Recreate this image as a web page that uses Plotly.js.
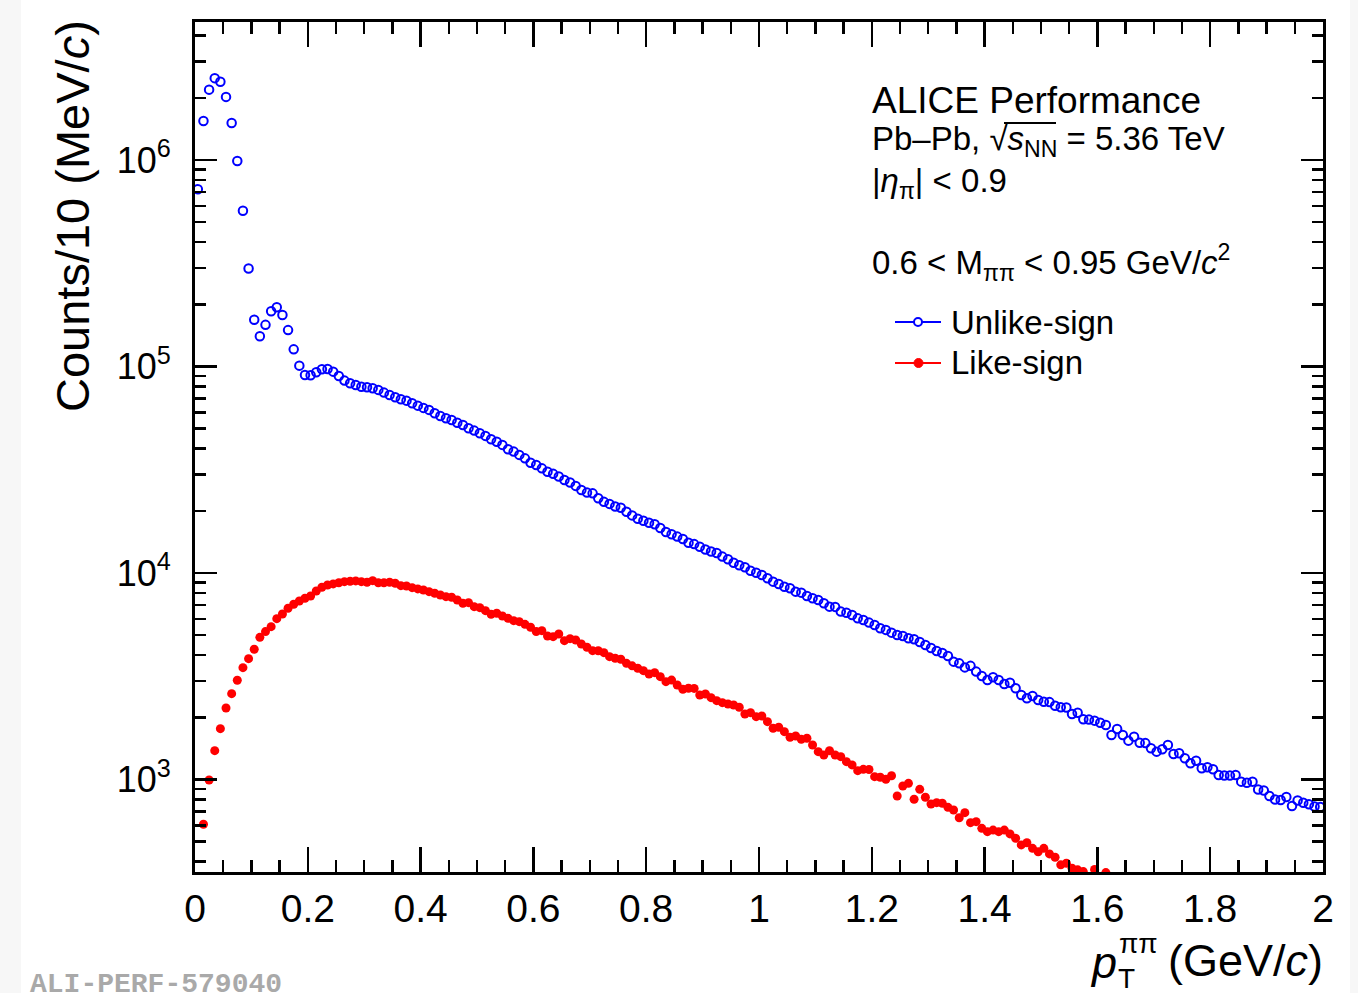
<!DOCTYPE html>
<html>
<head>
<meta charset="utf-8">
<script src="https://cdn.plot.ly/plotly-3.0.1.min.js"></script>
<style>html,body{margin:0;padding:0;background:#fff;}#chart{width:1358px;height:993px;}</style>
</head>
<body>
<div id="chart"></div>
<script>
// ---- data: pT bins (GeV/c), 10 MeV wide ----
const binWidth = 0.01;
const nBins = 200;
const ptCenters = Array.from({length: nBins}, (_, i) => +(0.005 + i * binWidth).toFixed(3));

// Unlike-sign counts per 10 MeV/c
const unlikeSign = [
  721000,1545000,2190000,2490000,2390000,2020000,1510000,989000,568000,298000,
  168500,140000,159000,185000,193500,177600,150000,121000,100900,91000,
  90600,93700,96900,97200,94400,89900,85400,82900,81400,79800,
  79300,78400,77000,74700,72800,70900,69400,68300,66300,64600,
  63000,61600,59300,57600,56100,55100,53400,52100,50200,48900,
  47500,46100,44400,43200,41700,39700,38700,37300,35900,34200,
  33300,32100,30900,30200,29300,28200,27400,26400,25200,24500,
  24300,23000,22100,21600,21000,20700,19800,19000,18300,17900,
  17500,17200,16500,15800,15400,15000,14600,14000,13800,13400,
  13000,12700,12500,12000,11650,11200,10900,10650,10250,10030,
  9780,9430,9080,8850,8580,8430,8120,8030,7740,7540,
  7400,7130,6870,6850,6500,6420,6260,6030,5920,5750,
  5600,5400,5300,5140,5010,4950,4830,4780,4630,4480,
  4330,4190,4100,3960,3720,3650,3490,3550,3330,3170,
  3030,3125,3030,2900,2940,2765,2566,2473,2537,2427,
  2381,2370,2277,2237,2230,2076,2106,1957,1950,1927,
  1884,1837,1643,1756,1643,1542,1612,1507,1500,1416,
  1364,1401,1469,1329,1339,1267,1198,1233,1133,1146,
  1120,1051,1046,1044,1051,976,965,976,894,885,
  832,800,796,823,744,791,772,758,740,736
];

// Like-sign counts per 10 MeV/c (null = below the visible range)
const likeSign = [
  null,607,994,1379,1762,2219,2603,3023,3478,3846,
  4270,4880,5200,5495,6007,6330,6746,7054,7318,7540,
  7740,8180,8530,8750,8850,8970,9080,9120,9150,9080,
  9015,9180,8970,8970,9015,8915,8680,8650,8490,8370,
  8270,8120,7975,7825,7680,7630,7400,7130,7180,6870,
  6790,6570,6310,6380,6190,6030,5875,5810,5640,5460,
  5200,5255,4950,4915,5065,4700,4807,4738,4531,4367,
  4205,4200,4112,3933,3863,3821,3650,3550,3456,3364,
  3243,3290,3146,2976,3030,2868,2734,2765,2760,2566,
  2595,2490,2408,2355,2321,2295,2237,2076,2106,2014,
  2030,1905,1770,1790,1704,1601,1624,1566,1583,1469,
  1364,1314,1379,1314,1290,1220,1176,1103,1120,1118,
  1032,1025,1002,1043,832,930,958,802,896,820,
  761,772,767,733,712,653,691,618,625,580,
  559,569,559,569,545,519,482,494,464,447,
  464,436,420,386,393,372,365,358,null,367,
  null,354,null,null,null,null,null,null,null,null,
  null,null,null,null,null,null,null,null,null,null,
  null,null,null,null,null,null,null,null,null,null,
  null,null,null,null,null,null,null,null,null,null
];

const yTickVals = [1e3, 1e4, 1e5, 1e6];
const yTickText = ['10<sup>3</sup>', '10<sup>4</sup>', '10<sup>5</sup>', '10<sup>6</sup>'];
const seriesNames = ['Unlike-sign', 'Like-sign'];

// ---- layout helpers ----
const W = 1358, H = 993;
const mL = 195, mR = 35, mT = 22, mB = 121;
const plotW = W - mL - mR, plotH = H - mT - mB;
const px = v => (v - mL) / plotW;
const py = v => (H - mB - v) / plotH;

const minorY = [];
for (let d = 2; d <= 6; d++) for (let k = 2; k <= 9; k++) minorY.push(k * Math.pow(10, d));

const FONT = 'Liberation Sans, Arial, Helvetica, sans-serif';
const BLUE = '#0000ff', RED = '#ff0000';

const traces = [
  {x: ptCenters, y: unlikeSign, type: 'scatter', mode: 'markers', name: seriesNames[0],
   marker: {symbol: 'circle-open', size: 8.5, color: BLUE, line: {color: BLUE, width: 2}}, showlegend: false},
  {x: ptCenters, y: likeSign, type: 'scatter', mode: 'markers', name: seriesNames[1],
   marker: {symbol: 'circle', size: 9, color: RED}, showlegend: false}
];

function ann(text, x, y, size, opts) {
  return Object.assign({text: text, x: px(x), y: py(y), xref: 'paper', yref: 'paper',
    showarrow: false, xanchor: 'left', yanchor: 'middle',
    font: {family: FONT, size: size, color: 'black'}}, opts || {});
}

const annotations = [
  ann('ALICE Performance', 870, 101, 37),
  ann('Pb\u2013Pb, \u221A<i>s</i><sub>NN</sub> = 5.36 TeV', 870, 141, 33),
  ann('|<i>\u03B7</i><sub>\u03C0</sub>| < 0.9', 870, 183, 33),
  ann('0.6 < M<sub>\u03C0\u03C0</sub> < 0.95 GeV/<i>c</i><sup>2</sup>', 870, 262, 33),
  ann(seriesNames[0], 949, 322, 33),
  ann(seriesNames[1], 949, 362, 33),
  // y axis title
  {text: 'Counts/10 (MeV/<i>c</i>)', x: px(72), y: py(18), xref: 'paper', yref: 'paper', showarrow: false,
   textangle: -90, xanchor: 'center', yanchor: 'top', font: {family: FONT, size: 47, color: 'black'}},
  // x axis title pieces
  ann('(GeV/<i>c</i>)', 1325, 960, 45, {xanchor: 'right'}),
  ann('<i>p</i>', 1119, 962, 45, {xanchor: 'right'}),
  ann('\u03C0\u03C0', 1117, 943, 28),
  ann('T', 1116, 978, 28),
  // watermark
  {text: '<b>ALI-PERF-579040</b>', x: px(28), y: py(985), xref: 'paper', yref: 'paper', showarrow: false,
   xanchor: 'left', yanchor: 'middle', font: {family: 'Liberation Mono, Courier New, monospace', size: 28, color: '#a9a9a9'}}
];

const shapes = [
  {type: 'rect', xref: 'paper', yref: 'paper', x0: px(0), x1: px(21), y0: py(0), y1: py(H), fillcolor: '#f7f7f7', line: {width: 0}, layer: 'below'},
  {type: 'rect', xref: 'paper', yref: 'paper', x0: px(1350), x1: px(W), y0: py(0), y1: py(H), fillcolor: '#f7f7f7', line: {width: 0}, layer: 'below'},
  // legend lines
  {type: 'line', xref: 'paper', yref: 'paper', x0: px(895), x1: px(941), y0: py(322), y1: py(322), line: {color: BLUE, width: 2}},
  {type: 'line', xref: 'paper', yref: 'paper', x0: px(895), x1: px(941), y0: py(363), y1: py(363), line: {color: RED, width: 2}},
  {type: 'circle', xref: 'paper', yref: 'paper', x0: px(914), x1: px(922), y0: py(318), y1: py(326), line: {color: BLUE, width: 2}, fillcolor: 'white'},
  {type: 'circle', xref: 'paper', yref: 'paper', x0: px(914), x1: px(923), y0: py(358.5), y1: py(367.5), line: {color: RED, width: 1}, fillcolor: RED},
  // sqrt overline
  {type: 'line', xref: 'paper', yref: 'paper', x0: px(1004), x1: px(1056), y0: py(123), y1: py(123), line: {color: 'black', width: 2}}
];

const layout = {
  width: W, height: H,
  margin: {l: mL, r: mR, t: mT, b: mB, pad: 0},
  paper_bgcolor: 'white', plot_bgcolor: 'white',
  showlegend: false,
  font: {family: FONT, color: 'black'},
  xaxis: {range: [0, 2], tick0: 0, dtick: 0.2, ticks: 'inside', ticklen: 25, tickwidth: 2.5, tickcolor: 'black',
    showline: true, linewidth: 3, linecolor: 'black', mirror: 'allticks', showgrid: false, zeroline: false,
    tickfont: {family: FONT, size: 39, color: 'black'}, ticklabelstandoff: 0,
    minor: {dtick: 0.05, tick0: 0, ticks: 'inside', ticklen: 12, tickwidth: 2.5, tickcolor: 'black', showgrid: false}},
  yaxis: {type: 'log', range: [2.552, 6.668], tickmode: 'array', tickvals: yTickVals, ticktext: yTickText,
    ticks: 'inside', ticklen: 22, tickwidth: 2.5, tickcolor: 'black',
    showline: true, linewidth: 3, linecolor: 'black', mirror: 'allticks', showgrid: false, zeroline: false,
    tickfont: {family: FONT, size: 36, color: 'black'}, ticklabelstandoff: 14,
    minor: {tickmode: 'array', tickvals: minorY, ticks: 'inside', ticklen: 11, tickwidth: 2.5, tickcolor: 'black', showgrid: false}},
  annotations: annotations,
  shapes: shapes
};

Plotly.newPlot('chart', traces, layout, {staticPlot: true, displayModeBar: false});
</script>
</body>
</html>
